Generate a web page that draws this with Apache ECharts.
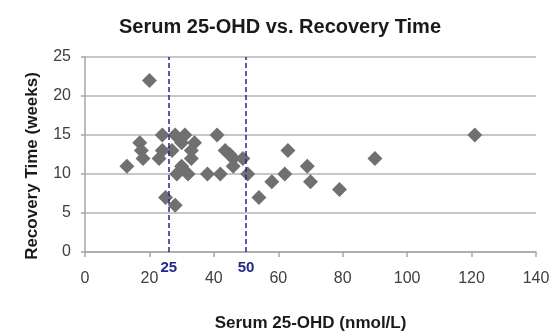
<!DOCTYPE html>
<html>
<head>
<meta charset="utf-8">
<script src="https://cdn.jsdelivr.net/npm/echarts@6/dist/echarts.min.js"></script>
<style>
html,body{margin:0;padding:0;background:#fff;}
#chart{width:560px;height:332px;}
</style>
</head>
<body>
<div id="chart"></div>
<script>
// Serum 25-OHD (nmol/L)
var serum = [13, 17, 17.5, 18, 20, 24, 23, 24, 25, 28, 28, 31, 30, 27, 30, 28.5, 32, 34, 33, 33, 38, 41, 42, 43.5, 45, 46, 46, 49, 50.5, 54, 58, 62, 63, 69, 70, 79, 90, 121];
// Recovery time (weeks)
var weeks = [11, 14, 13, 12, 22, 15, 12, 13, 7, 6, 15, 15, 14, 13, 11, 10, 10, 14, 13, 12, 10, 15, 10, 13, 12.5, 12, 11, 12, 10, 7, 9, 10, 13, 11, 9, 8, 12, 15];
// Reference lines (position as drawn, label text)
var refLinePos = [26, 50];
var refLineLabels = ['25', '50'];

var points = serum.map(function (x, i) { return [x, weeks[i]]; });
var FONT = '"Liberation Sans", Arial, sans-serif';

var chart = echarts.init(document.getElementById('chart'), null, {renderer: 'canvas'});
chart.setOption({
  animation: false,
  backgroundColor: '#ffffff',
  title: {
    text: 'Serum 25-OHD vs. Recovery Time',
    left: 'center',
    top: 12,
    textStyle: {fontFamily: FONT, fontSize: 20, fontWeight: 'bold', color: '#1a1a1a'}
  },
  grid: {left: 85, right: 24, top: 57, bottom: 80, containLabel: false, outerBoundsMode: 'none'},
  xAxis: {
    type: 'value', min: 0, max: 140, interval: 20,
    name: 'Serum 25-OHD (nmol/L)', nameLocation: 'middle', nameGap: 63,
    nameTextStyle: {fontFamily: FONT, fontSize: 17, fontWeight: 'bold', color: '#1a1a1a'},
    axisLine: {show: true, lineStyle: {color: '#a6a6a6', width: 1.5}},
    axisTick: {show: true, length: 5, lineStyle: {color: '#a6a6a6', width: 1.5}},
    axisLabel: {fontFamily: FONT, fontSize: 16, color: '#404040', margin: 19},
    splitLine: {show: false}
  },
  yAxis: {
    type: 'value', min: 0, max: 25, interval: 5,
    name: 'Recovery Time (weeks)', nameLocation: 'middle', nameGap: 44,
    nameTextStyle: {fontFamily: FONT, fontSize: 17, fontWeight: 'bold', color: '#1a1a1a', padding: [0, 23, 0, 0]},
    axisLine: {show: true, lineStyle: {color: '#a6a6a6', width: 1.5}},
    axisTick: {show: true, length: 4, lineStyle: {color: '#a6a6a6', width: 1.5}},
    axisLabel: {fontFamily: FONT, fontSize: 16, color: '#404040', margin: 14},
    splitLine: {show: true, lineStyle: {color: '#b5b5b5', width: 1.5}}
  },
  series: [{
    type: 'scatter',
    data: points,
    symbol: 'diamond',
    symbolSize: 15,
    itemStyle: {color: '#707070', opacity: 1},
    markLine: {
      silent: true,
      symbol: ['none', 'none'],
      lineStyle: {color: '#1f2a8c', type: [5, 3], width: 1.5},
      label: {
        show: true, position: 'start', distance: 8,
        fontFamily: FONT, fontSize: 15, fontWeight: 'bold', color: '#1f2a8c',
        formatter: function (p) { return refLineLabels[p.dataIndex]; }
      },
      data: refLinePos.map(function (v) { return {xAxis: v}; })
    }
  }]
});
</script>
</body>
</html>
